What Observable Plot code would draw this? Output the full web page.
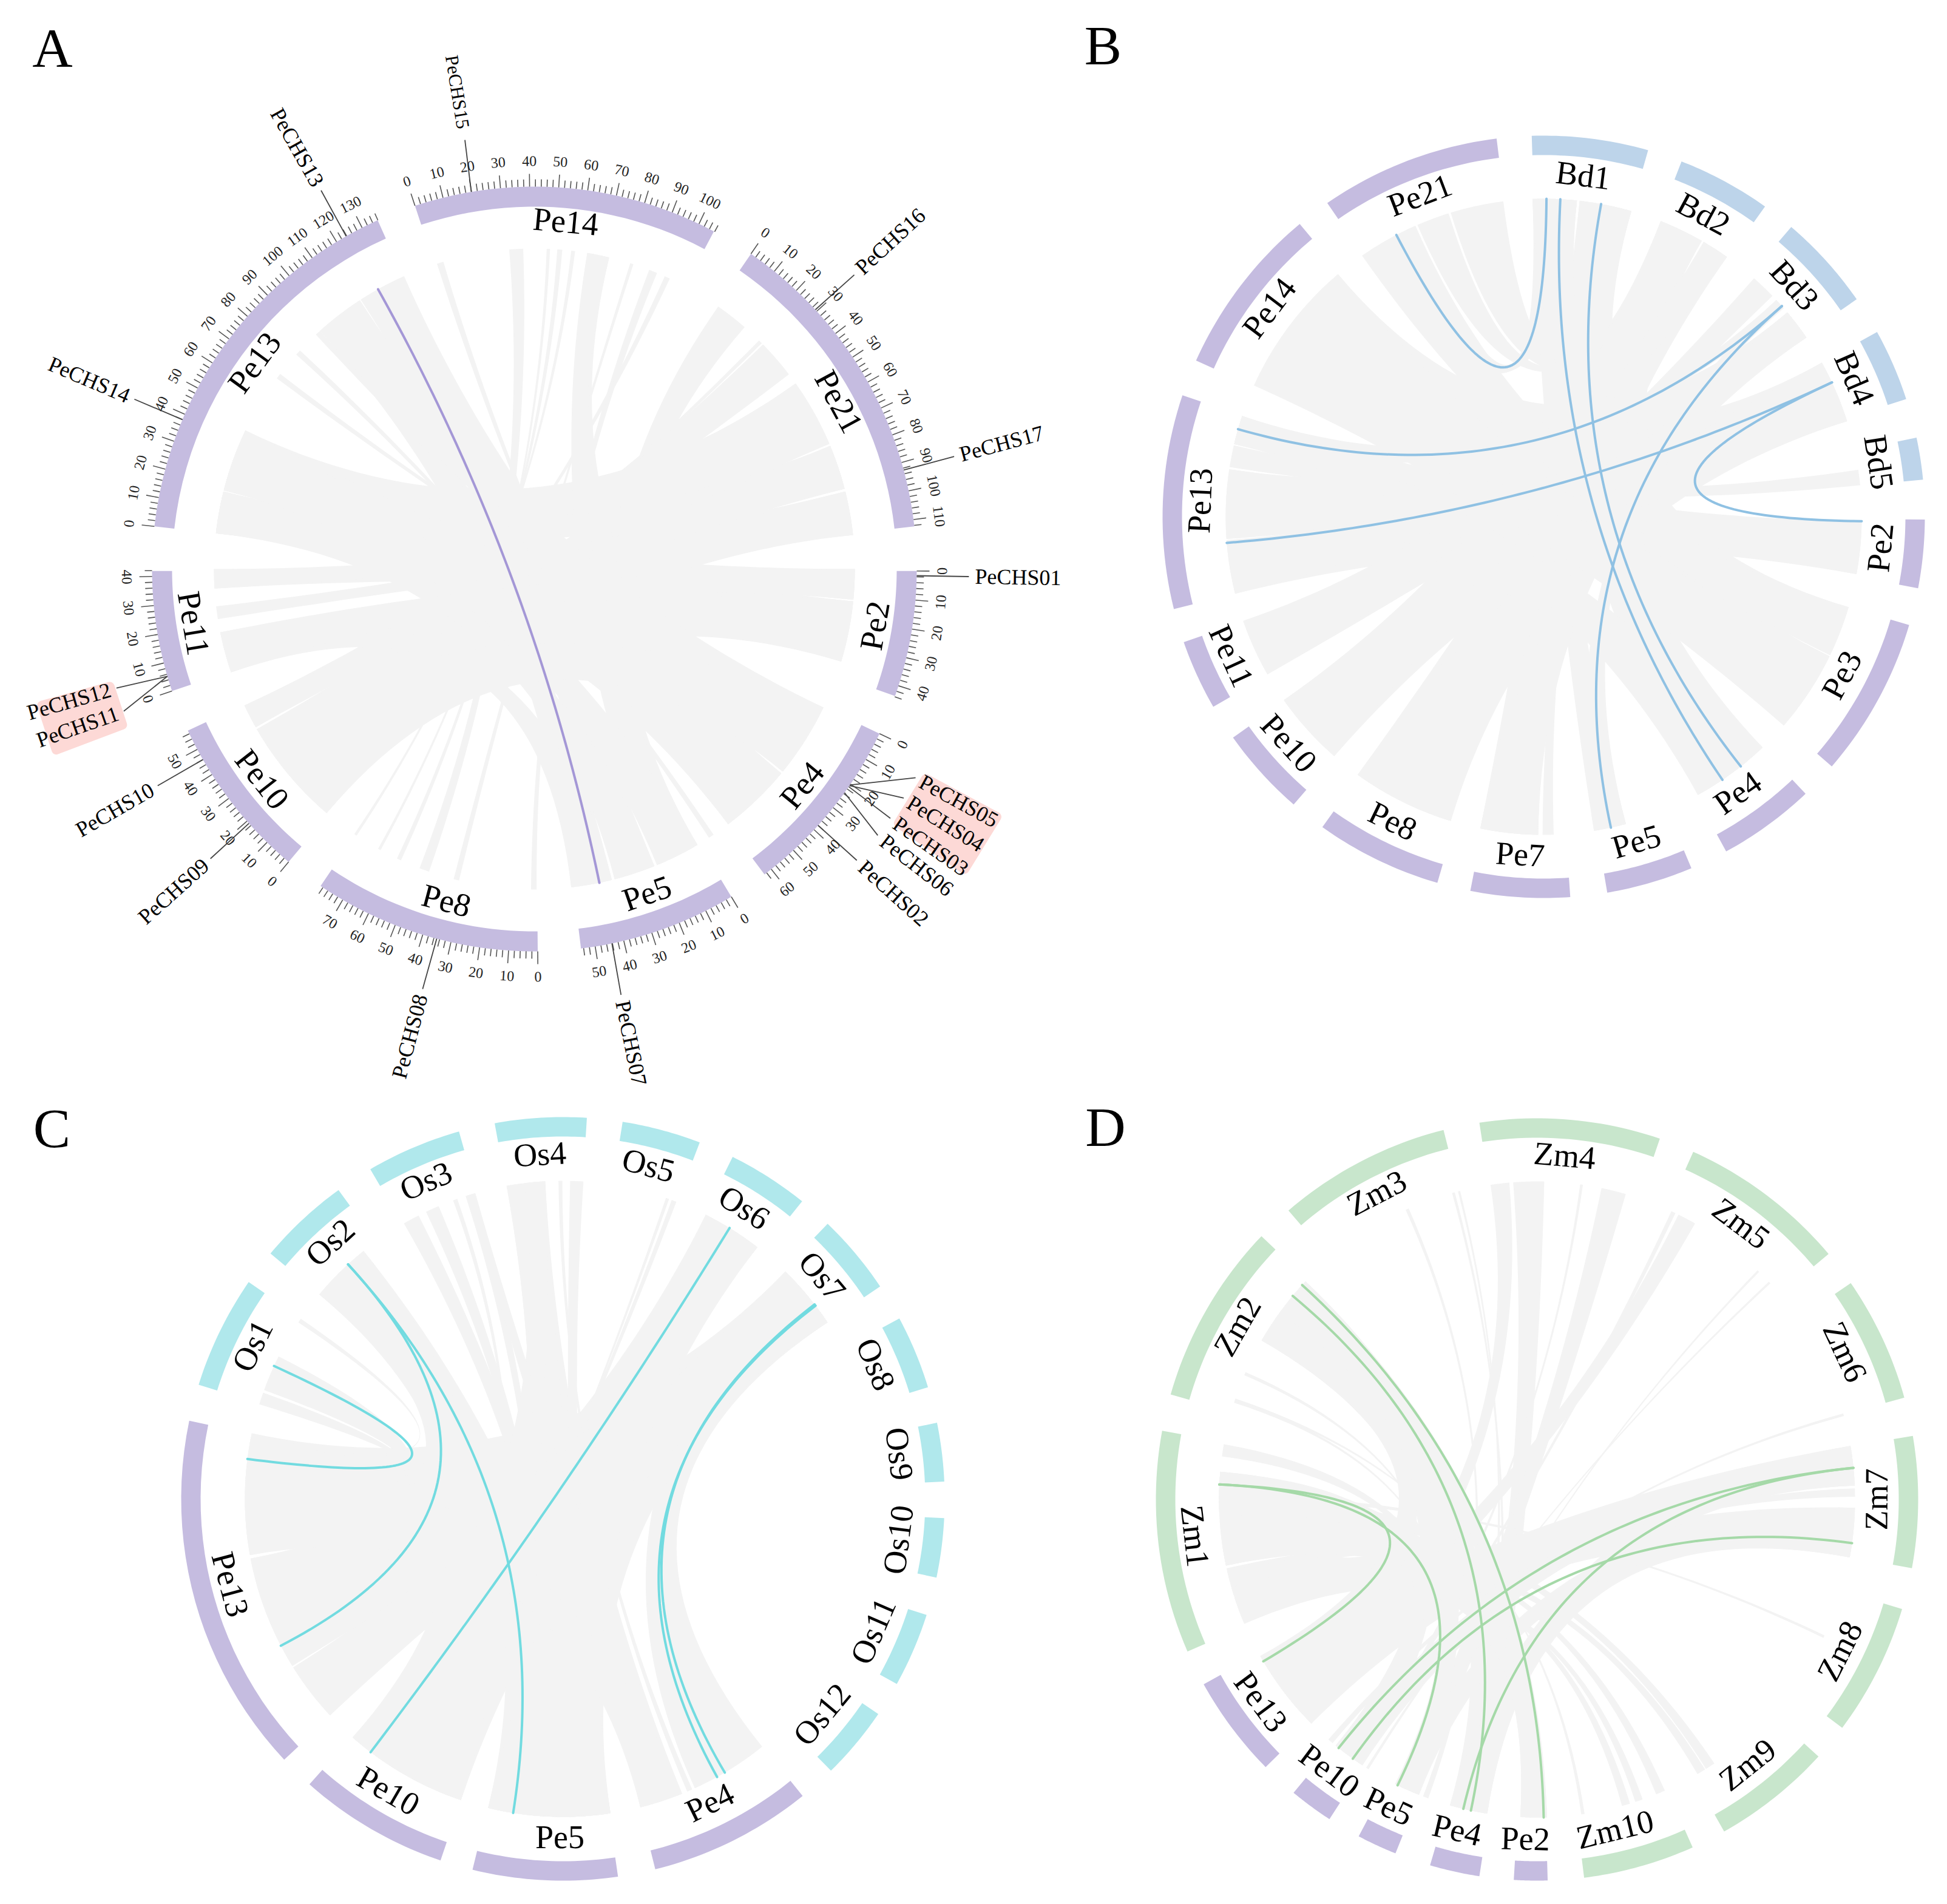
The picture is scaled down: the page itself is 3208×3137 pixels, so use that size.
<!DOCTYPE html>
<html><head><meta charset="utf-8">
<style>html,body{margin:0;padding:0;background:#fff}svg{display:block}</style>
<script src="https://cdn.jsdelivr.net/npm/d3@7"></script>
<script src="https://cdn.jsdelivr.net/npm/@observablehq/plot@0.6"></script>
</head><body><div id="chart"></div>
<script>
// All angles are degrees clockwise from 12 o'clock.
const GREY="#f3f3f3", PE="#c5bce0", FONT="Liberation Serif";

// Panel A
const namesA=["Pe14","Pe21","Pe2","Pe4","Pe5","Pe8","Pe10","Pe11","Pe13"];
const startA=[341.8,34.5,90.3,115.5,149,179.5,220,251.4,276.4];
const endA  =[28,83.6,109.4,143,173,214,245,269.7,335.8];
const shiftA={Pe8:-2,Pe21:2.5,Pe10:-0.5,Pe14:0.3};
const ribbonsA=[[251.2,258.6,115.6,129.2],[261,263.3,76,83.9],[266.5,270,90,95.5],[276.4,284,95.8,106.8],
[284.2,295.6,67.4,75.5],[318,327,166,173.4],[327.2,336,158,165.5],[220.4,240,54.6,67],[240.4,244.8,45.5,52.6],
[35,41,149.4,157.5],[129.6,142.8,9.5,13.5],[355.5,358,199.2,201],[2.2,2.8,204.6,205.4],[4.1,5,208.7,209.2],
[6.6,7.3,213.7,214.2],[17.4,18,193.6,194.6],[21,22.5,179.6,180.6],[24,25,225,226],[342.3,343.5,150,151],[44.5,45.2,235,236],
[306.5,307.5,118,119],[312,313,146,147],[317,318,130,131],
[90,95.5,276.4,284],[95.8,106.8,284.2,295.6],[76,83.9,266.5,270],[67.4,75.5,276.4,284],[54.6,67,284.2,295.6],
[115.6,129.2,284.2,295.6],[129.6,142.8,276.4,284],[95.8,106.8,220.4,240],[76,83.9,220.4,240],[67.4,75.5,240.4,244.8],
[149.4,157.5,9.5,13.5],[149.4,157.5,284.2,295.6],[158,165.5,276.4,284],[166,173.4,251.2,258.6],
[115.6,129.2,318,327],[129.6,142.8,327.2,336],[115.6,129.2,220.4,240],[90,95.5,251.2,258.6]];
const linksA=[[330.8,168.3]];
const geneNames =["PeCHS01","PeCHS02","PeCHS03","PeCHS04","PeCHS05","PeCHS06","PeCHS07","PeCHS08","PeCHS09","PeCHS10","PeCHS11","PeCHS12","PeCHS13","PeCHS14","PeCHS15","PeCHS16","PeCHS17"];
const geneAngles=[91,132.1,124.7,124.5,124.4,125.8,168.3,194.8,228.3,240.1,253.7,253.7,330.5,293,350.5,47.3,75];
const labelAngles=[91,132.1,125,121.8,118.7,127.8,168.5,194.9,228.2,240.1,250.9,254.1,330.6,293,350.8,47.4,75];
const highlights=[[249.3,254.5,726,842],[118.2,124.9,732,864]];
const MB_DEG=0.437;

// Panel B
const namesB=["Bd1","Bd2","Bd3","Bd4","Bd5","Pe2","Pe3","Pe4","Pe5","Pe7","Pe8","Pe10","Pe11","Pe13","Pe14","Pe21"];
const startB=[358.2,21.2,40.5,61,78,90.4,106.5,136.6,157.2,176,196.2,221,240.1,256,294.2,325.4];
const endB  =[15.9,35.5,55.2,72,84.4,100.8,130.9,151.4,170.4,191.1,215.5,234.6,250.8,288.6,320.2,352.9];
const shiftB={Pe4:0.8,Pe3:-0.6};
const ribbonsB=[[325.2,336.2,358,6],[336.6,342.6,21.6,25.5],[343,352.7,25.8,29.8],[294.4,319.7,61,72.5],[283.2,288.5,47,49],
[266,278.6,65,72.5],[90.8,100.4,256,265.8],[81.5,84.3,279,283],[240.3,250.9,50,55.7],[221.2,234.8,41.4,46],[197,215.8,30.2,35.2],
[181,191.5,6.5,16],[178.2,180.2,21.6,22.5],[165,170.9,47,49],[136.5,151,358,6],[116,131,21.6,29.8],[106.5,115.8,6.5,16],
[165,170.9,358,6],[197,215.8,50,55.7],[197,215.8,61,72.5],[181,191.5,30.2,35.2],[221.2,234.8,61,72.5],[240.3,250.9,30.2,35.2],
[256,265.8,50,55.7],[266,278.6,50,55.7],[294.4,319.7,50,55.7],[136.5,151,6.5,16],[116,131,358,6],[181,191.5,50,55.7],[221.2,234.8,21.6,29.8],
[106.5,115.8,325.2,336.2],[116,131,294.4,319.7],[136.5,151,283.2,288.5],[90.8,100.4,283.2,288.5]];
const linksB=[[332.4,0.5],[3,145.8],[10.4,141.7],[48.5,286],[48.5,167.8],[65,265.3],[65,90.8]];

// Panel C
const namesC=["Pe13","Os1","Os2","Os3","Os4","Os5","Os6","Os7","Os8","Os9","Os10","Os11","Os12","Pe4","Pe5","Pe10"];
const startC=[226.9,287.4,310,329.7,349.7,9,26.4,43.9,61.8,78.5,92.9,107.7,124.3,141.1,171.7,198.7];
const endC  =[281.8,304.6,324,344.2,3.6,21,38.8,56.2,73,87.4,101.9,119,135.4,166,193.7,221.6];
const shiftC={Pe5:-2.7,Os2:0.8,Pe13:0.6,Pe4:0.4};
const ribbonsC=[[259.8,281.9,44.4,56.3],[44.4,56.3,141.2,155.5],[26.7,37.7,198.7,221.4],[26.7,37.7,227.1,238],[310,321.2,238.3,259.2],
[317,319,172,175],[290,296.6,262,270],[287.3,289.5,271,276],[303.7,304.5,280,281],[330,333,171.4,178],[334.5,337,179,182],
[339.8,340.6,200,201],[342.2,344,183,186],[349.8,352.5,187,193.6],[353,356.8,158,165.9],[359.2,359.9,156,157],[1.3,3.7,172,177],
[18.9,19.5,205,205.5],[20,20.9,207,208],
[44.4,56.3,171.4,193.6],[44.4,56.3,198.7,221.4],[44.4,56.3,238.3,259.2],[44.4,56.3,227.1,238],[349.8,356.8,171.4,193.6],
[353,356.8,198.7,221.4],[342.2,344,158,165.9],[310,321.2,171.4,193.6],[310,321.2,198.7,221.4],[26.7,37.7,171.4,193.6],[158,165.9,259.8,281.9]];
const linksC=[[294.7,277.2],[317.5,242.5],[317.5,189],[31.6,217.2],[52.3,149.4],[52.6,151]];

// Panel D
const namesD=["Zm1","Zm2","Zm3","Zm4","Zm5","Zm6","Zm7","Zm8","Zm9","Zm10","Pe2","Pe4","Pe5","Pe10","Pe13"];
const startD=[246.5,286,319.3,351.3,24.2,55.4,80.4,106.7,132.4,155.9,178.4,188.7,201.8,213,225.4];
const endD  =[280.4,313.7,345.8,18.8,49.9,74.5,100.4,126.8,150.6,172.9,183.5,196.3,207.9,219.7,241];
const shiftD={Zm10:2,Pe2:0.6,Pe4:0.6,Pe5:0.4,Pe10:0.5};
const ribbonsD=[[300,313.3,189,195.9],[305,313,178.2,183],[267,275,225.2,227],[258,263,227.5,235],[255,257.5,235.5,237],[252.5,254.5,237.5,239],
[247,252,239.5,240.5],[277.8,280,201.8,206.5],[80.3,87.5,213.3,219.3],[91.5,100.5,227.5,235.5],[88,89.5,225.5,226.5],
[287.7,288.3,202,203],[293,293.6,204,205],[335.6,336.2,200,201],[344.5,345,190,191],[345.6,346,193,194],[351.6,355,227,232],
[355.7,1.3,189,195],[7.8,8.3,214,215],[11.7,16.2,201.8,206],[25,25.8,215,216],[26.4,29.8,230,235],[43.9,44.3,204,204.5],[46.8,47.2,212,212.5],
[74.3,74.8,220,221],[115.3,115.8,270,271],[146.1,147.9,268,272],[148.1,149.7,258,262],[156.3,158,263,266],[160.6,162,248,252],[163,164.5,253,257],[171.4,172,288,288.5],
[300,313.3,201.8,206.5],[300,313.3,213.3,219.3],[300,306,225.2,240.5],[80.3,87.5,189,195.9],[91.5,100.5,189,195.9],[80.3,87.5,225.2,240.5],
[91.5,100.5,201.8,206.5],[178.2,183,258,275],[178.2,183,247,254],[267,275,213.3,219.3]];
const linksD=[[272.7,239.4],[272.7,206],[312.4,178.8],[309.8,192],[84.3,218.6],[84.3,193.4],[97.9,215.4]];

const panels=[
 {letter:"A",lx:86,ly:80,cx:880,cy:937,R:630,w:33,rib:528,lab:570,fs:54,dx:0,dy:-4,shift:shiftA,names:namesA,start:startA,end:endA,ribbons:ribbonsA,links:linksA,ring:()=>PE,link:"#a497d6"},
 {letter:"B",lx:1817,ly:76,cx:2543,cy:851,R:628,w:32,rib:524,lab:562,fs:54,dx:-4,dy:-4,shift:shiftB,names:namesB,start:startB,end:endB,ribbons:ribbonsB,links:linksB,ring:n=>n.startsWith("Bd")?"#bdd4ea":PE,link:"#8fc1e3"},
 {letter:"C",lx:85,ly:1860,cx:927,cy:2469,R:629,w:32,rib:524,lab:563,fs:54,dx:-5,dy:-5,shift:shiftC,names:namesC,start:startC,end:endC,ribbons:ribbonsC,links:linksC,ring:n=>n.startsWith("Os")?"#b0e8ec":PE,link:"#72dbe0"},
 {letter:"D",lx:1821,ly:1858,cx:2532,cy:2470,R:628,w:32,rib:524,lab:564,fs:54,dx:-4,dy:-4,shift:shiftD,names:namesD,start:startD,end:endD,ribbons:ribbonsD,links:linksD,ring:n=>n.startsWith("Zm")?"#c8e6cc":PE,link:"#a5d9a8"}
];

const rad=d=>d*Math.PI/180;
const pol=(p,a,r)=>[p.cx+r*Math.sin(rad(a)),p.cy-r*Math.cos(rad(a))];
const span=(a,b)=>{const e=b<a?b+360:b;return d3.range(0,25).map(i=>a+(e-a)*i/24)};
const quad=(p,a,b,r,n=40)=>{const A=pol(p,a,r),B=pol(p,b,r);
  return d3.range(0,n+1).map(i=>{const t=i/n,u=1-t;return [u*u*A[0]+2*u*t*p.cx+t*t*B[0],u*u*A[1]+2*u*t*p.cy+t*t*B[1]]})};
const upright=a=>{a=(a+360)%360;return (a<90||a>270)?a:a-180};

const ringPts=[],ribPts=[],linkPts=[],labels=[],letters=[];
panels.forEach((p,pi)=>{
  letters.push({t:p.letter,x:p.lx,y:p.ly});
  p.names.forEach((n,i)=>{
    const s=span(p.start[i],p.end[i]);
    const id=`${pi}-${n}`;
    s.forEach(a=>{const [x,y]=pol(p,a,p.R);ringPts.push({id,x,y,c:p.ring(n)})});
    s.slice().reverse().forEach(a=>{const [x,y]=pol(p,a,p.R-p.w);ringPts.push({id,x,y,c:p.ring(n)})});
    const e=p.end[i]<p.start[i]?p.end[i]+360:p.end[i], mid=(p.start[i]+e)/2+(p.shift[n]||0);
    const [x,y]=pol(p,mid,p.lab);
    labels.push({t:n,x:x+p.dx,y:y+p.dy,r:upright(mid),fs:p.fs});
  });
  p.ribbons.forEach((q,i)=>{
    const id=`${pi}-${i}`;
    const pts=[...span(q[0],q[1]).map(a=>pol(p,a,p.rib)),...quad(p,q[1],q[2],p.rib),...span(q[2],q[3]).map(a=>pol(p,a,p.rib)),...quad(p,q[3],q[0],p.rib)];
    pts.forEach(([x,y])=>ribPts.push({id,x,y}));
  });
  p.links.forEach((l,i)=>{
    quad(p,l[0],l[1],p.rib,70).forEach(([x,y])=>linkPts.push({id:`${pi}-${i}`,x,y,c:p.link}));
  });
});

// Panel A scale ticks, gene lines, gene labels and highlights
const A=panels[0], ticks=[], tickLabels=[];
A.names.forEach((n,i)=>{
  const e=A.end[i]<A.start[i]?A.end[i]+360:A.end[i];
  const size=(e-A.start[i])/MB_DEG;
  for(let m=0;m<=size+0.6;m+=2){
    const a=A.start[i]+m*MB_DEG, major=m%10===0;
    const [x1,y1]=pol(A,a,A.R), [x2,y2]=pol(A,a,A.R+(major?21:12));
    ticks.push({x1,y1,x2,y2});
    if(major){const [x,y]=pol(A,a,672);tickLabels.push({t:String(m),x,y,r:upright(a)});}
  }
});
const geneLines=geneNames.map((g,i)=>{const [x1,y1]=pol(A,geneAngles[i],A.R),[x2,y2]=pol(A,labelAngles[i],716);return {x1,y1,x2,y2}});
const geneText=geneNames.map((g,i)=>{const a=labelAngles[i],[x,y]=pol(A,a,g==="PeCHS15"?735:726);
  return {t:g,x,y,a,r:a<180?a-90:a+90-360,fs:g==="PeCHS15"?31:36}});
const hiPts=[];
highlights.forEach((h,i)=>{[[h[0],h[2]],[h[0],h[3]],[h[1],h[3]],[h[1],h[2]],[h[0],h[2]]].forEach(([a,r])=>{const [x,y]=pol(A,a,r);hiPts.push({id:i,x,y})})});

const chart=Plot.plot({
  width:3208,height:3137,margin:0,
  style:{background:"#fff",fontFamily:FONT},
  x:{domain:[0,3208],range:[0,3208],axis:null},
  y:{domain:[0,3137],range:[0,3137],axis:null},
  marks:[
    Plot.line(ribPts,{x:"x",y:"y",z:"id",fill:GREY,stroke:"none"}),
    Plot.line(ringPts,{x:"x",y:"y",z:"id",fill:"c",stroke:"none"}),
    Plot.line(linkPts,{x:"x",y:"y",z:"id",stroke:"c",strokeWidth:4,fill:"none"}),
    Plot.line(hiPts,{x:"x",y:"y",z:"id",fill:"#fdd9d6",stroke:"#fdd9d6",strokeWidth:16,strokeLinejoin:"round"}),
    Plot.link(ticks,{x1:"x1",y1:"y1",x2:"x2",y2:"y2",stroke:"#555",strokeWidth:1.6}),
    Plot.link(geneLines,{x1:"x1",y1:"y1",x2:"x2",y2:"y2",stroke:"#444",strokeWidth:1.8}),
    Plot.text(tickLabels,{x:"x",y:"y",text:"t",rotate:"r",fontSize:24,fill:"#222",fontFamily:FONT}),
    Plot.text(labels,{x:"x",y:"y",text:"t",rotate:"r",fontSize:"fs",fill:"#000",fontFamily:FONT}),
    Plot.text(geneText.filter(d=>d.a<180),{x:"x",y:"y",text:"t",rotate:"r",fontSize:"fs",textAnchor:"start",fill:"#000",fontFamily:FONT}),
    Plot.text(geneText.filter(d=>d.a>=180),{x:"x",y:"y",text:"t",rotate:"r",fontSize:"fs",textAnchor:"end",fill:"#000",fontFamily:FONT}),
    Plot.text(letters,{x:"x",y:"y",text:"t",fontSize:92,fill:"#000",fontFamily:FONT})
  ]
});
document.getElementById("chart").appendChild(chart);
</script></body></html>
